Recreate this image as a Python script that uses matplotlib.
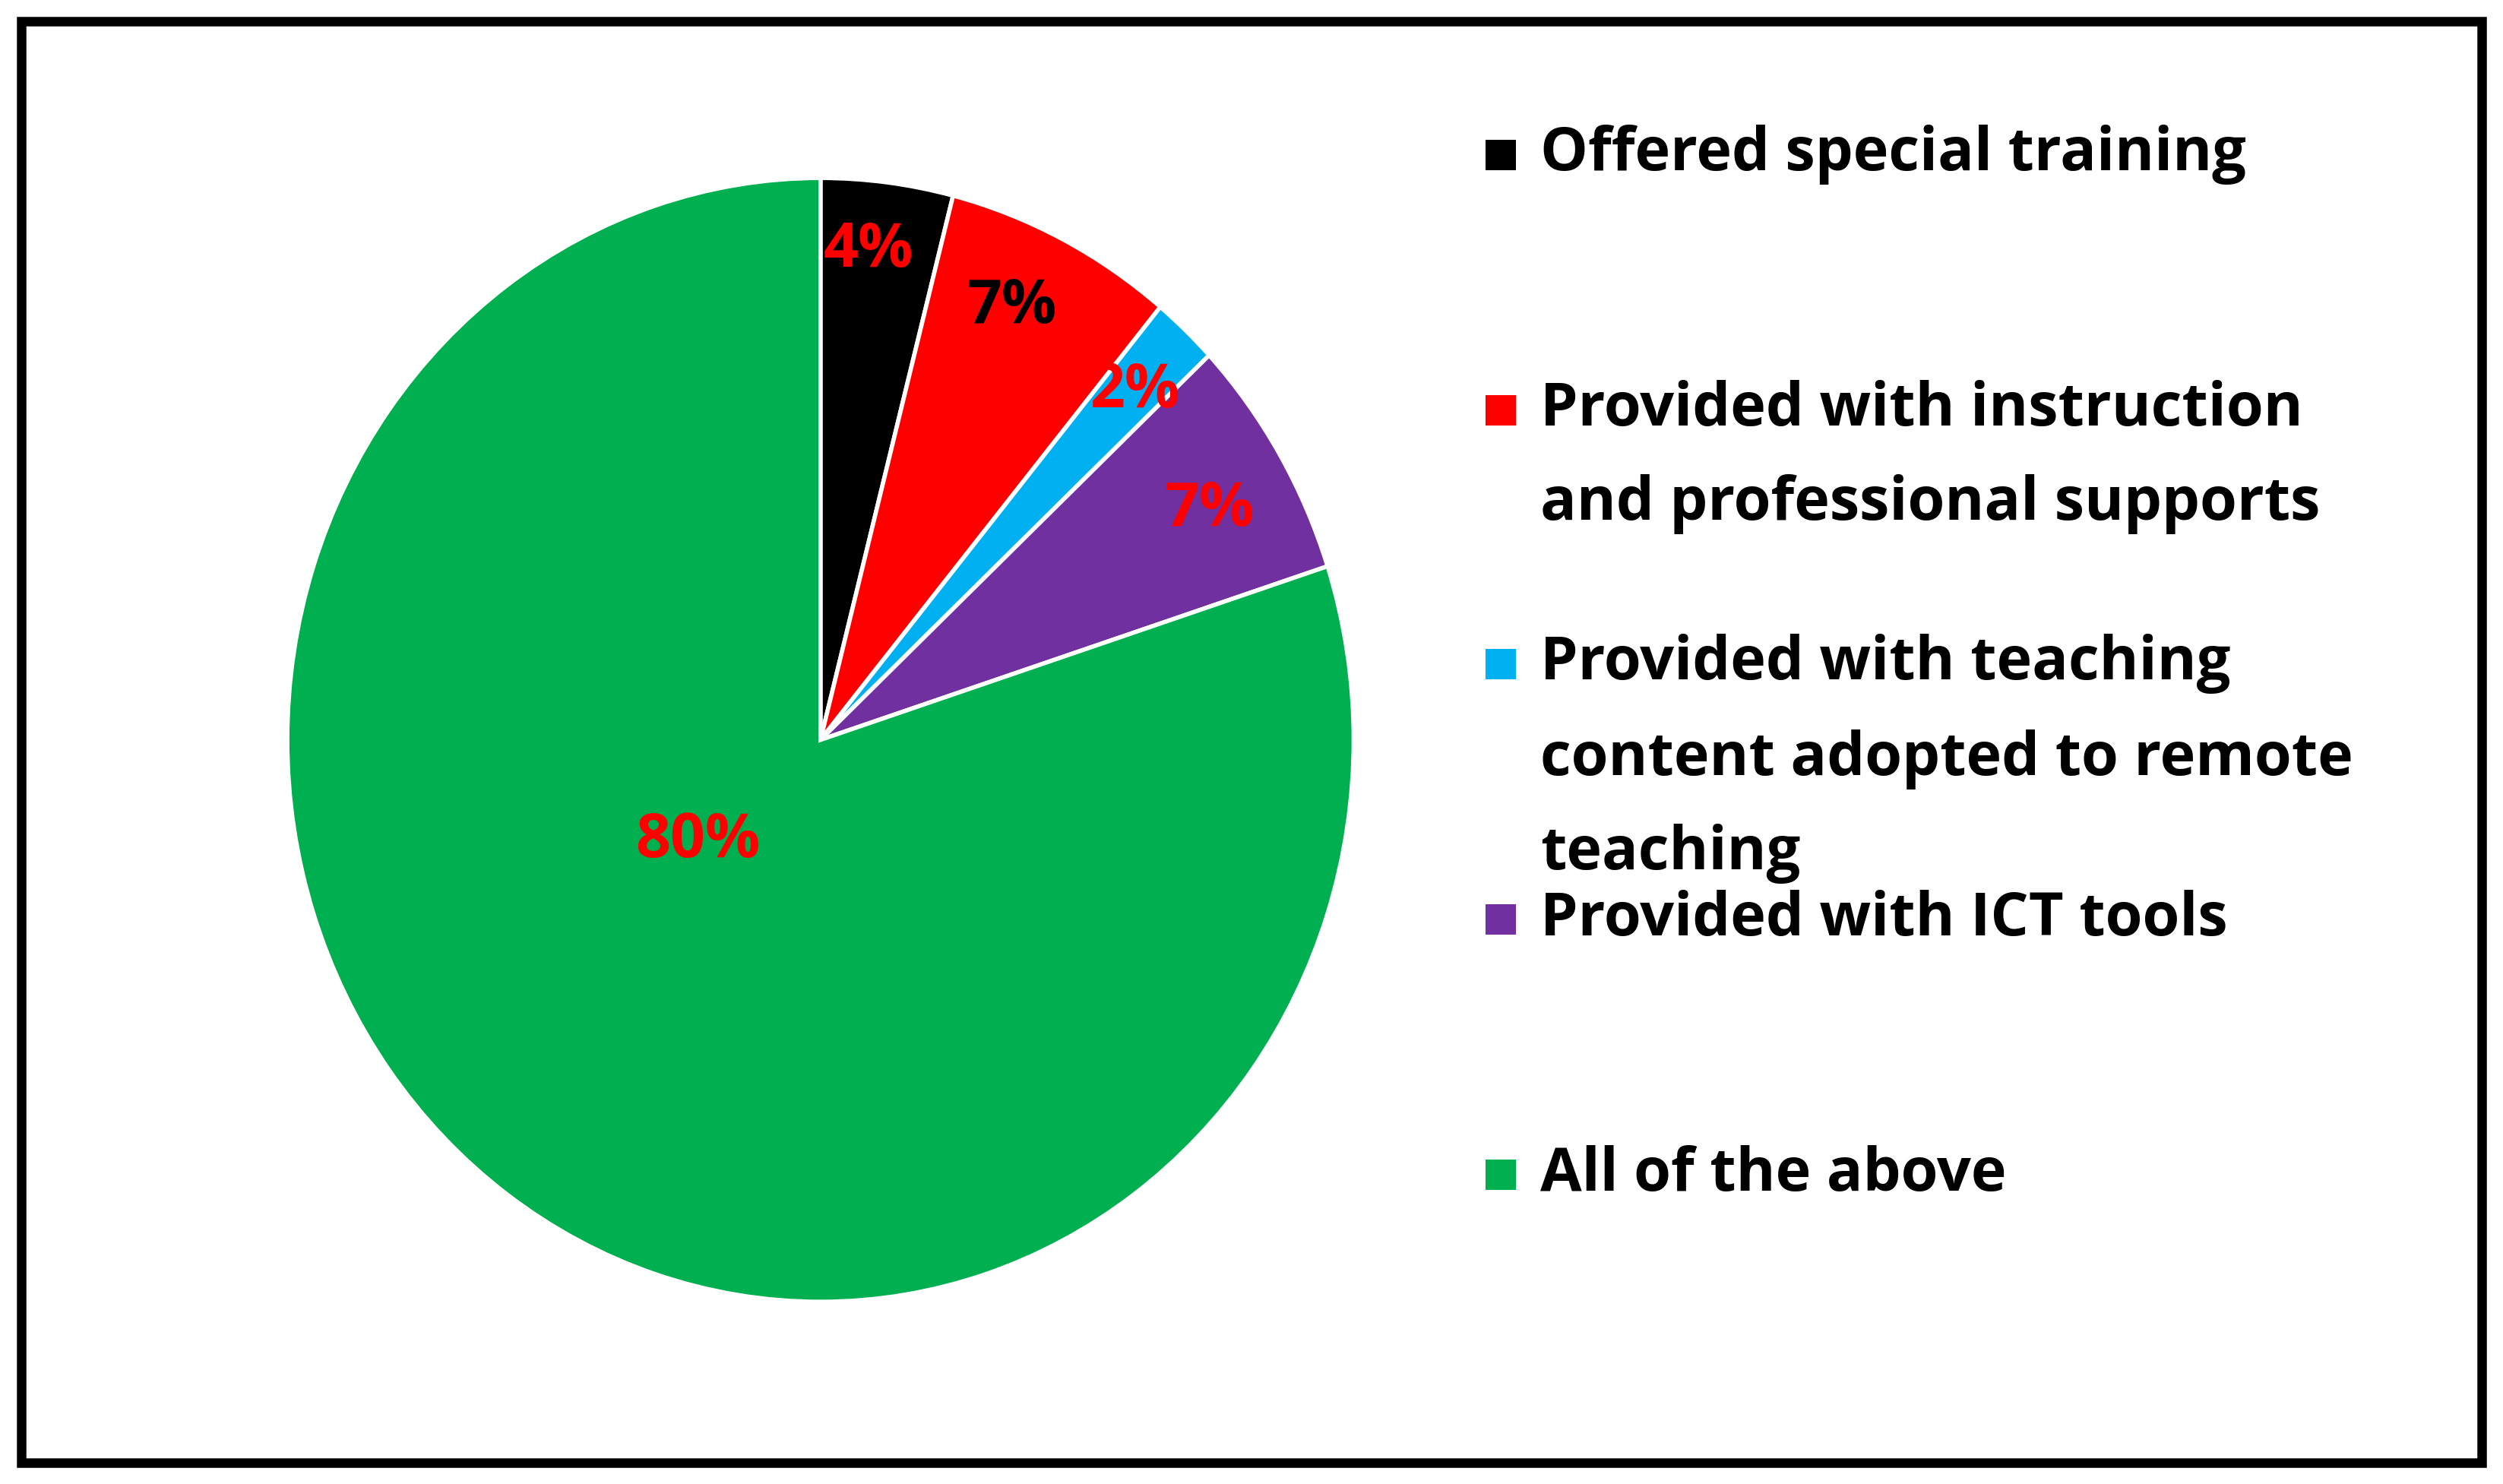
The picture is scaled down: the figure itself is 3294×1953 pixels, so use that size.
import numpy as np
import matplotlib
matplotlib.use('Agg')
import matplotlib.pyplot as plt
from matplotlib.patches import Rectangle

categories = ["Offered special training",
              "Provided with instruction\nand professional supports",
              "Provided with teaching\ncontent adopted to remote\nteaching",
              "Provided with ICT tools",
              "All of the above"]
values = [4, 7, 2, 7, 80]
colors = ["#000000", "#FF0000", "#00B0F0", "#7030A0", "#00B050"]
label_colors = ["#FF0000", "#000000", "#FF0000", "#FF0000", "#FF0000"]
# label positions in pie data units (x, y)
label_pos = [(0.09, 0.87), (0.36, 0.77), (0.59, 0.62), (0.73, 0.41), (-0.23, -0.18)]

W, H = 3294, 1953
scale = W / 1568          # reference was measured on a 1568 px wide view
fig = plt.figure(figsize=(W / 100, H / 100), dpi=100)
fig.patch.set_facecolor("white")
FONT = "Open Sans"

# outer frame
fig.patches.append(Rectangle((28 / W, 28 / H), 1 - 56 / W, 1 - 56 / H, transform=fig.transFigure,
                             fill=False, edgecolor="black", linewidth=9))

cx, cy, rx, ry = 514 * scale, 463.5 * scale, 334 * scale, 352 * scale
ax = fig.add_axes([(cx - rx) / W, 1 - (cy + ry) / H, 2 * rx / W, 2 * ry / H])
ax.pie(values, colors=colors, startangle=90, counterclock=False,
       wedgeprops=dict(edgecolor="white", linewidth=4))
ax.set_xlim(-1, 1)
ax.set_ylim(-1, 1)
ax.set_aspect("auto")
ax.axis("off")

for v, (x, y), c in zip(values, label_pos, label_colors):
    ax.text(x, y, f"{v}%", color=c, fontsize=58, fontweight="bold", family=FONT,
            ha="center", va="center")

# legend: line centres in reference (1568-wide) coords
line_y = [[97], [257, 316], [416, 476, 535], [576], [736]]
sq = 40
for lab, col, ys in zip(categories, colors, line_y):
    y0 = 1 - ys[0] * scale / H
    fig.patches.append(Rectangle(((940 * scale - sq / 2) / W, y0 - sq / 2 / H), sq / W, sq / H,
                                 transform=fig.transFigure, facecolor=col, edgecolor="none"))
    for line, y in zip(lab.split("\n"), ys):
        fig.text(965 * scale / W, 1 - y * scale / H, line, fontsize=57, fontweight="bold",
                 family=FONT, ha="left", va="center")

fig.savefig("out.png", dpi=100, facecolor="white")
